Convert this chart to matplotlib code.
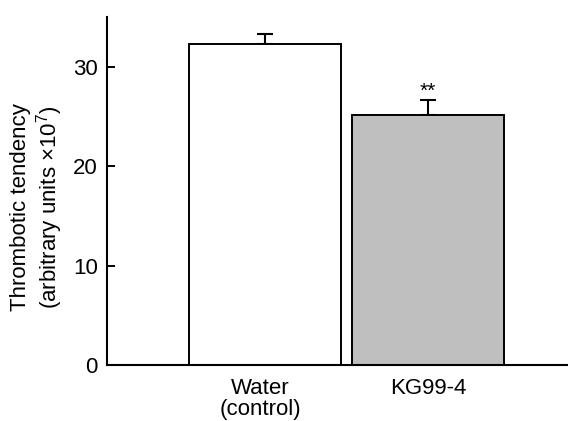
#!/usr/bin/env python3

"""Bar chart of thrombotic tendency, water vs KG99-4."""

import matplotlib
matplotlib.use('Agg')
import matplotlib.pyplot as plt
import matplotlib.transforms as mtransforms
import numpy as np

groups = ['Water\n(control)', 'KG99-4']
means = [32.3, 25.1]
sem = [1.0, 1.55]
signif = ['', '**']
bar_colours = ['white', '#bfbfbf']

plt.rcParams['font.family'] = ['Liberation Sans', 'DejaVu Sans']
plt.rcParams['mathtext.fontset'] = 'custom'
plt.rcParams['mathtext.rm'] = 'Liberation Sans'
fig_fontsize = 16

fig = plt.figure(figsize=(5.68, 4.21), dpi=100)
ax = fig.add_axes([0.1884, 0.133, 0.8116, 0.8266])

tick_pos = np.arange(len(groups))
ax.bar(tick_pos, means, width=0.93, color=bar_colours,
       edgecolor='black', linewidth=1.4, zorder=2)
ax.errorbar(tick_pos, means, yerr=[np.zeros(len(sem)), sem],
            fmt='none', ecolor='black', elinewidth=1.5,
            capsize=5.8, capthick=1.5, zorder=1)

# significance stars above the error bars
for pos, m, s, txt in zip(tick_pos, means, sem, signif):
    if txt:
        ax.text(pos, m + s - 0.1, txt, ha='center', va='bottom',
                fontsize=15)

ax.set_xlim(-0.97, 1.859)
ax.set_ylim(0, 35)
ax.set_yticks([0, 10, 20, 30])
ax.set_xticks(tick_pos)
ax.set_xticklabels(groups, fontsize=fig_fontsize, linespacing=1.0)
ax.tick_params(axis='x', length=0, pad=9)
ax.tick_params(axis='y', direction='in', length=5.5, width=1.4,
               labelsize=fig_fontsize, pad=6.5)

# the Water label sits a little left of its bar in the original
shift = mtransforms.ScaledTranslation(-5 / 100, 0, fig.dpi_scale_trans)
first_lbl = ax.get_xticklabels()[0]
first_lbl.set_transform(first_lbl.get_transform() + shift)

for side in ['top', 'right']:
    ax.spines[side].set_visible(False)
for side in ['left', 'bottom']:
    ax.spines[side].set_linewidth(1.5)

fig.text(0.066, 0.508,
         'Thrombotic tendency\n(arbitrary units \u00d710$^{\\mathrm{7}}$)',
         rotation=90, ha='center', va='center', multialignment='center',
         fontsize=fig_fontsize, linespacing=1.1)

plt.savefig('out.png', dpi=100)
